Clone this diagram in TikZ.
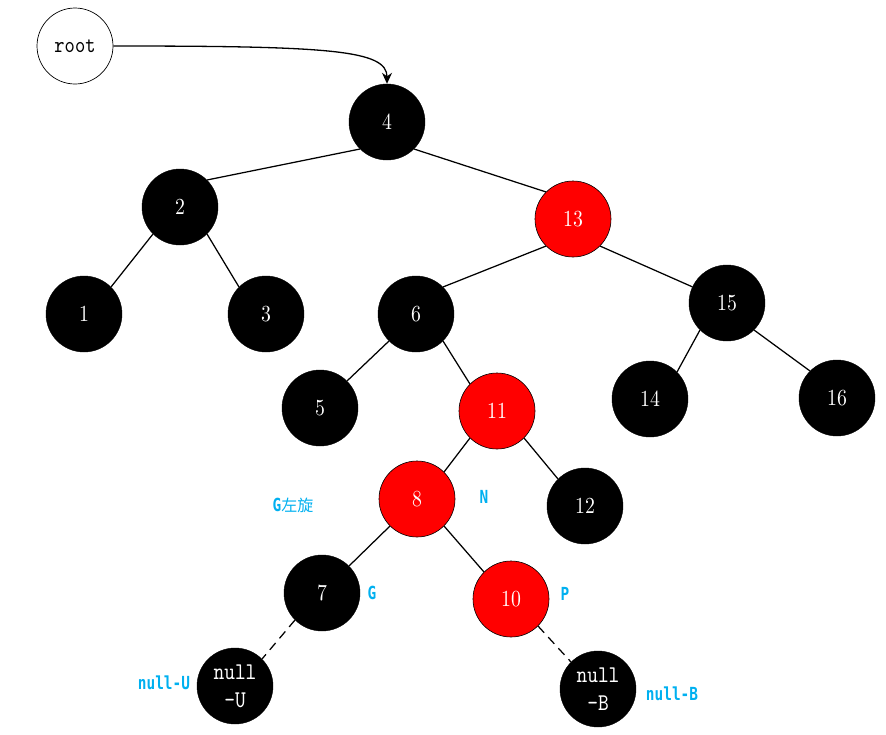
\documentclass[tikz,border=0pt]{standalone}
\usepackage{fontspec}
\newfontfamily\cjk{Noto Sans CJK SC}
\newfontfamily\lblfont[FakeStretch=0.8]{DejaVu Sans Mono}
\newfontfamily\numfont[FakeStretch=0.86]{lmroman10-regular.otf}
\newfontfamily\monofont[FakeStretch=0.85]{lmmono10-regular.otf}
\usetikzlibrary{arrows.meta}
\definecolor{lblcyan}{HTML}{00B0F0}
\definecolor{rbred}{HTML}{FF0000}
\begin{document}
\begin{tikzpicture}[x=1pt,y=-1pt,
  blk/.style={circle,fill=black,draw=black,minimum size=76pt,inner sep=0pt,text=white,font=\numfont\fontsize{23}{26}\selectfont,align=center},
  nullnode/.style={blk,font=\monofont\fontsize{24}{28}\selectfont},
  rd/.style={circle,fill=rbred,draw=black,line width=0.6pt,minimum size=76pt,inner sep=0pt,text=white,font=\numfont\fontsize{23}{26}\selectfont},
  rootnode/.style={circle,draw=black,fill=white,line width=0.7pt,minimum size=76pt,inner sep=0pt,font=\monofont\fontsize{23}{26}\selectfont},
  edge/.style={draw=black,line width=1.25pt},
  dashedge/.style={draw=black,line width=1.25pt,dash pattern=on 9pt off 6pt},
  lbl/.style={text=lblcyan,font=\lblfont\bfseries\fontsize{18}{20}\selectfont,inner sep=0pt}]
\useasboundingbox (0,0) rectangle (886,734);
\node[rootnode] (root) at (75,46) {root};
\node[blk] (n4) at (387,122) {4};
\node[blk] (n2) at (180,207) {2};
\node[rd]  (n13) at (573,219) {13};
\node[blk] (n1) at (84,314) {1};
\node[blk] (n3) at (266,314) {3};
\node[blk] (n6) at (416,314) {6};
\node[blk] (n15) at (727,303) {15};
\node[blk] (n5) at (320,408) {5};
\node[rd]  (n11) at (497,411) {11};
\node[blk] (n14) at (650,399) {14};
\node[blk] (n16) at (837,398) {16};
\node[rd]  (n8) at (417,499) {8};
\node[blk] (n12) at (585,506) {12};
\node[blk] (n7) at (322,593) {7};
\node[rd]  (n10) at (511,599) {10};
\node[nullnode] (nu) at (235,686) {null\\-U};
\node[nullnode] (nb) at (598,689) {null\\-B};
\node[lbl] (lg) at (293,505) {G{\cjk\mdseries\fontsize{16}{18}\selectfont 左旋}};
\node[lbl] (ln) at (484,497) {N};
\node[lbl] (lgg) at (372,593) {G};
\node[lbl] (lp) at (565,594) {P};
\node[lbl] (lu) at (164,683) {null-U};
\node[lbl] (lb) at (672,694) {null-B};
\draw[line width=1.3pt,-{Stealth[length=11pt,width=10pt]}] (root.east) .. controls (330,46) and (387,50) .. (n4.north);
\draw[edge] (n4.225) -- (n2.45);
\draw[edge] (n4.315) -- (n13.135);
\draw[edge] (n2.225) -- (n1.45);
\draw[edge] (n2.315) -- (n3.135);
\draw[edge] (n13.225) -- (n6.45);
\draw[edge] (n13.315) -- (n15.155);
\draw[edge] (n6.225) -- (n5.45);
\draw[edge] (n6.315) -- (n11.135);
\draw[edge] (n15.225) -- (n14.45);
\draw[edge] (n15.315) -- (n16.135);
\draw[edge] (n11.225) -- (n8.45);
\draw[edge] (n11.315) -- (n12.135);
\draw[edge] (n8.225) -- (n7.45);
\draw[edge] (n8.315) -- (n10.135);
\draw[dashedge] (n7.225) -- (nu.45);
\draw[dashedge] (n10.315) -- (nb.135);
\end{tikzpicture}
\end{document}
